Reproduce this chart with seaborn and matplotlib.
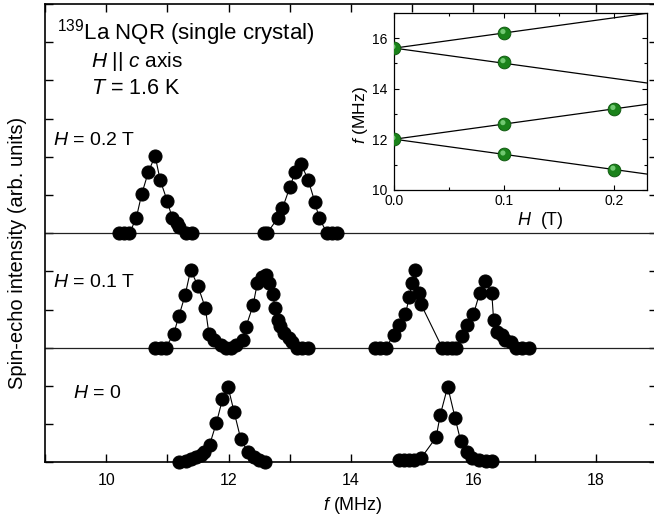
import numpy as np
import pandas as pd
import matplotlib
matplotlib.use("Agg")
import matplotlib.pyplot as plt
import matplotlib.transforms as mtransforms
from matplotlib.ticker import MultipleLocator, NullFormatter, FormatStrFormatter
import seaborn as sns

# ---- 139La NQR spectra (frequency in MHz, intensity in arb. units) ----
freq_h0 = [11.19, 11.30, 11.38, 11.46, 11.55, 11.60, 11.69, 11.80, 11.90, 11.99,
           12.09, 12.20, 12.31, 12.42, 12.50, 12.60,
           14.78, 14.86, 14.94, 15.03, 15.14, 15.39, 15.46, 15.58, 15.70, 15.79,
           15.90, 15.98, 16.09, 16.20, 16.31]
amp_h0 = [0.00, 0.04, 0.09, 0.13, 0.20, 0.26, 0.46, 1.03, 1.65, 1.98,
          1.32, 0.60, 0.28, 0.15, 0.07, 0.02,
          0.05, 0.05, 0.05, 0.07, 0.10, 0.65, 1.25, 1.98, 1.17, 0.57,
          0.26, 0.12, 0.07, 0.04, 0.04]

freq_h01 = [10.80, 10.89, 10.97, 11.10, 11.19, 11.29, 11.38, 11.50, 11.62, 11.68,
            11.76, 11.87, 11.95, 12.04, 12.12, 12.23, 12.28, 12.40, 12.47, 12.55,
            12.61, 12.66, 12.72, 12.76, 12.80, 12.84, 12.91, 12.98, 13.04, 13.12,
            13.20, 13.30,
            14.40, 14.48, 14.57, 14.70, 14.79, 14.89, 14.95, 15.00, 15.04, 15.11,
            15.14, 15.49, 15.57, 15.65, 15.71, 15.81, 15.90, 16.00, 16.10, 16.19,
            16.30, 16.33, 16.39, 16.46, 16.52, 16.61, 16.69, 16.80, 16.91]
amp_h01 = [0.00, 0.00, 0.00, 0.35, 0.84, 1.38, 2.04, 1.61, 1.04, 0.35,
           0.20, 0.07, 0.00, 0.00, 0.07, 0.20, 0.53, 1.11, 1.70, 1.84,
           1.91, 1.70, 1.41, 1.04, 0.73, 0.56, 0.38, 0.25, 0.14, 0.00,
           0.00, 0.00,
           0.00, 0.00, 0.00, 0.34, 0.60, 0.87, 1.32, 1.70, 2.04, 1.44,
           1.15, 0.00, 0.00, 0.00, 0.00, 0.31, 0.60, 0.87, 1.42, 1.75,
           1.44, 0.73, 0.42, 0.34, 0.20, 0.14, 0.00, 0.00, 0.00]

freq_h02 = [10.21, 10.29, 10.38, 10.49, 10.58, 10.69, 10.80, 10.88, 11.00, 11.08,
            11.15, 11.19, 11.31, 11.41,
            12.58, 12.63, 12.80, 12.88, 13.00, 13.09, 13.18, 13.30, 13.41, 13.48,
            13.61, 13.69, 13.77]
amp_h02 = [0.00, 0.00, 0.00, 0.39, 1.02, 1.61, 2.02, 1.40, 0.83, 0.39,
           0.27, 0.17, 0.00, 0.00,
           0.00, 0.00, 0.39, 0.65, 1.20, 1.61, 1.82, 1.40, 0.81, 0.39,
           0.00, 0.00, 0.00]

field_labels = ["0", "0.1", "0.2"]
field_offsets = [0, 3, 6]

# ---- peak frequencies vs field (inset) ----
inset_field = [0.0, 0.0, 0.1, 0.1, 0.1, 0.1, 0.2, 0.2]
inset_freq = [15.6, 12.0, 16.2, 15.05, 12.6, 11.4, 13.2, 10.8]
fit_intercept = [15.6, 15.6, 12.0, 12.0]
fit_slope = [6.0, -6.0, 6.0, -6.0]
fit_field_range = [0.0, 0.23]

# ---- style ----
sns.set_theme(style="ticks")
plt.rcParams.update({
    "font.family": ["Liberation Sans", "DejaVu Sans"],
    "mathtext.fontset": "custom",
    "mathtext.rm": "Liberation Sans",
    "mathtext.it": "Liberation Sans:italic",
    "mathtext.bf": "Liberation Sans:bold",
    "axes.edgecolor": "black",
    "xtick.color": "black",
    "ytick.color": "black",
    "text.color": "black",
})

W, H = 654, 517
fig = plt.figure(figsize=(W / 100, H / 100), dpi=100)

# main axes (pixel geometry -> figure fraction)
ax_l, ax_r, ax_t, ax_b = 45, 657, 4, 462.3
ax = fig.add_axes([ax_l / W, (H - ax_b) / H, (ax_r - ax_l) / W, (ax_b - ax_t) / H])

# tidy dataframe of the stacked spectra
frames = []
seg_base = 0
for freqs, amps, lab, off in zip([freq_h0, freq_h01, freq_h02],
                                 [amp_h0, amp_h01, amp_h02],
                                 field_labels, field_offsets):
    f = np.asarray(freqs)
    seg = np.concatenate([[0], np.cumsum(np.diff(f) > 0.6)]) + seg_base
    seg_base = seg.max() + 1
    frames.append(pd.DataFrame({"f": f, "y": np.asarray(amps) + off,
                                "field": lab, "seg": seg}))
spec = pd.concat(frames, ignore_index=True)

for off in field_offsets[1:]:
    ax.axhline(off, color="#222222", lw=0.9, zorder=1)

sns.lineplot(data=spec, x="f", y="y", units="seg", estimator=None, sort=False,
             color="black", lw=0.8, marker="o", markersize=9.4,
             markeredgecolor="black", markerfacecolor="black",
             clip_on=False, zorder=3, ax=ax, legend=False)

ax.set_xlim(9, 19)
ax.set_ylim(0, 12)
ax.xaxis.set_major_locator(MultipleLocator(2))
ax.xaxis.set_minor_locator(MultipleLocator(1))
ax.yaxis.set_major_locator(MultipleLocator(1))
ax.yaxis.set_major_formatter(NullFormatter())
ax.tick_params(which="both", direction="in", top=True, right=True,
               length=5.8, width=1.0)
ax.tick_params(axis="x", which="major", labelsize=11.5, pad=7.5)
for s in ax.spines.values():
    s.set_linewidth(1.2)
ax.set_xlabel("")
ax.set_ylabel("")

fig.text(353 / W, (H - 510) / H, r"$f$ (MHz)", ha="center", va="baseline",
         fontsize=13)
fig.text(18 / W, (H - 253) / H, "Spin-echo intensity (arb. units)",
         rotation=90, ha="center", va="center", fontsize=14.5)

# annotations
ax.text(9.196, 11.07, r"$^{139}$La NQR (single crystal)", fontsize=16,
        ha="left", va="baseline")
ax.text(9.747, 10.36, r"$H$ || $c$ axis", fontsize=15, ha="left", va="baseline")
ax.text(9.747, 9.64, r"$T$ = 1.6 K", fontsize=15.5, ha="left", va="baseline")
ax.text(9.136, 8.32, r"$H$ = 0.2 T", fontsize=14, ha="left", va="baseline")
ax.text(9.136, 4.60, r"$H$ = 0.1 T", fontsize=14, ha="left", va="baseline")
ax.text(9.45, 1.68, r"$H$ = 0", fontsize=14, ha="left", va="baseline")

# ---- inset: Zeeman-split NQR lines ----
in_l, in_r, in_t, in_b = 394.3, 647.3, 12.7, 189.8
axin = fig.add_axes([in_l / W, (H - in_b) / H, (in_r - in_l) / W, (in_b - in_t) / H])
axin.set_facecolor("white")

fit_rows = []
for k, (b, s) in enumerate(zip(fit_intercept, fit_slope)):
    for h in fit_field_range:
        fit_rows.append({"H": h, "f": b + s * h, "branch": k})
fit_df = pd.DataFrame(fit_rows)
sns.lineplot(data=fit_df, x="H", y="f", units="branch", estimator=None,
             color="black", lw=0.9, ax=axin, legend=False, zorder=2)

pts = pd.DataFrame({"H": inset_field, "f": inset_freq})
sns.scatterplot(data=pts, x="H", y="f", s=85, color="#1a821a",
                edgecolor="#0b520b", linewidth=0.6, ax=axin, zorder=3)
hl = mtransforms.offset_copy(axin.transData, fig=fig, x=-1.4, y=1.4, units="dots")
axin.scatter(pts["H"], pts["f"], s=14, color="#8fe08f", edgecolor="none",
             alpha=0.75, transform=hl, zorder=4)

axin.set_xlim(0, 0.23)
axin.set_ylim(10, 17)
axin.xaxis.set_major_locator(MultipleLocator(0.1))
axin.xaxis.set_minor_locator(MultipleLocator(0.05))
axin.yaxis.set_major_locator(MultipleLocator(2))
axin.yaxis.set_minor_locator(MultipleLocator(1))
axin.tick_params(which="both", direction="in", top=True, right=True, width=0.8,
                 labelsize=10)
axin.tick_params(which="major", length=3.5)
axin.tick_params(which="minor", length=2.2)
axin.tick_params(axis="x", pad=3.2)
axin.tick_params(axis="y", pad=4.8)
axin.xaxis.set_major_formatter(FormatStrFormatter("%.1f"))
for s in axin.spines.values():
    s.set_linewidth(0.9)
axin.set_xlabel("")
axin.set_ylabel("")
fig.text(516.7 / W, (H - 225) / H, r"$H$  (T)", ha="left", va="baseline",
         fontsize=13)
fig.text(360 / W, (H - 115) / H, r"$f$ (MHz)", rotation=90, ha="center",
         va="center", fontsize=12.5)

fig.savefig("out.png", dpi=100)
